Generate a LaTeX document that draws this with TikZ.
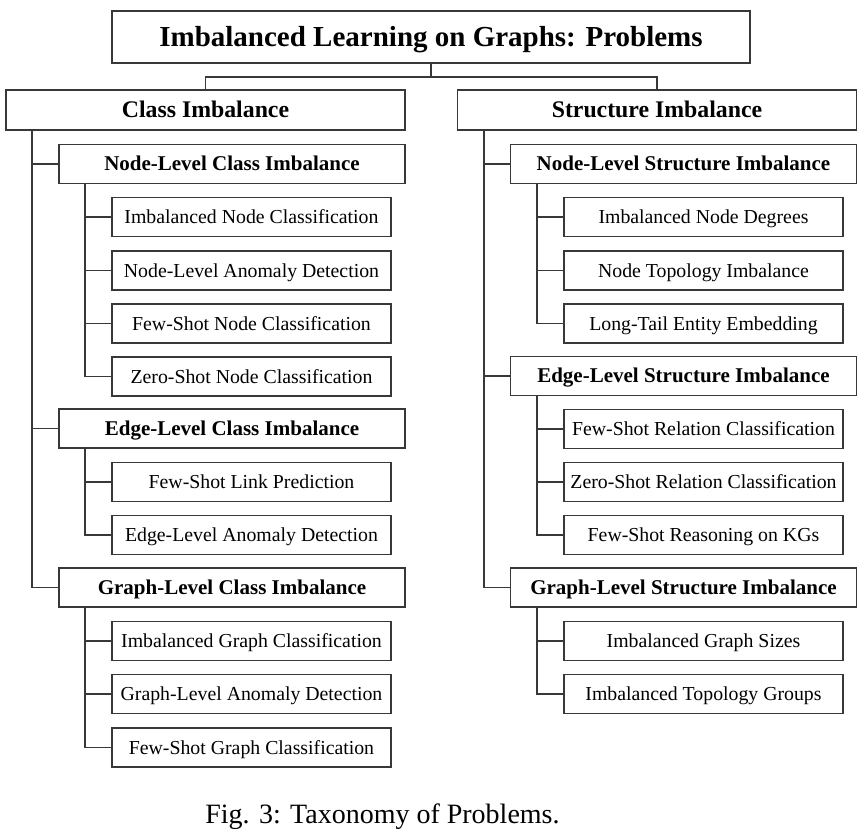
\documentclass[tikz,border=0pt]{standalone}
\usepackage{fontspec}
\setmainfont{Liberation Serif}
\definecolor{linec}{HTML}{383838}
\begin{document}
\begin{tikzpicture}[x=1pt,y=-1pt,
  box/.style={draw=linec,line width=1.4pt,fill=white,inner sep=0pt,align=center,text=black},
  titlebox/.style={box,minimum width=638pt,minimum height=52pt,text height=23pt,text depth=3.8pt,font=\fontsize{29}{34}\selectfont\bfseries},
  lvone/.style={box,minimum width=399pt,minimum height=40pt,text height=19pt,text depth=3.3pt,font=\fontsize{23.8}{28}\selectfont\bfseries},
  lvtwo/.style={box,minimum width=346pt,minimum height=39pt,text height=17pt,text depth=3.1pt,font=\fontsize{21}{25}\selectfont\bfseries},
  leaf/.style={box,minimum width=279pt,minimum height=39pt,text height=16pt,text depth=3pt,font=\fontsize{19.8}{24}\selectfont},
  conn/.style={draw=linec,line width=1.8pt}
]
\useasboundingbox (0,0) rectangle (865,839);

% title
\node[titlebox] (t) at (431,37) {Imbalanced Learning on Graphs: Problems};

% level 1
\node[lvone] (ci) at (205.5,110) {Class Imbalance};
\node[lvone] (si) at (657,110) {Structure Imbalance};

% left level 2
\node[lvtwo] (cn) at (232,164) {Node-Level Class Imbalance};
\node[lvtwo] (ce) at (232,428.5) {Edge-Level Class Imbalance};
\node[lvtwo] (cg) at (232,587.5) {Graph-Level Class Imbalance};

% left leaves
\node[leaf] (cn1) at (251.5,217) {Imbalanced Node Classification};
\node[leaf] (cn2) at (251.5,270.5) {Node-Level Anomaly Detection};
\node[leaf] (cn3) at (251.5,323.5) {Few-Shot Node Classification};
\node[leaf] (cn4) at (251.5,376.5) {Zero-Shot Node Classification};
\node[leaf] (ce1) at (251.5,482) {Few-Shot Link Prediction};
\node[leaf] (ce2) at (251.5,535) {Edge-Level Anomaly Detection};
\node[leaf] (cg1) at (251.5,641) {Imbalanced Graph Classification};
\node[leaf] (cg2) at (251.5,694) {Graph-Level Anomaly Detection};
\node[leaf] (cg3) at (251.5,747.5) {Few-Shot Graph Classification};

% right level 2
\node[lvtwo] (sn) at (683.5,164) {Node-Level Structure Imbalance};
\node[lvtwo] (se) at (683.5,376) {Edge-Level Structure Imbalance};
\node[lvtwo] (sg) at (683.5,587.5) {Graph-Level Structure Imbalance};

% right leaves
\node[leaf] (sn1) at (703.5,217) {Imbalanced Node Degrees};
\node[leaf] (sn2) at (703.5,270.5) {Node Topology Imbalance};
\node[leaf] (sn3) at (703.5,323.5) {Long-Tail Entity Embedding};
\node[leaf] (se1) at (703.5,429) {Few-Shot Relation Classification};
\node[leaf] (se2) at (703.5,482) {Zero-Shot Relation Classification};
\node[leaf] (se3) at (703.5,535) {Few-Shot Reasoning on KGs};
\node[leaf] (sg1) at (703.5,641) {Imbalanced Graph Sizes};
\node[leaf] (sg2) at (703.5,694) {Imbalanced Topology Groups};

% title connectors
\coordinate (tj) at (431,77);
\draw[conn] (t.south) -- (tj);
\draw[conn] (ci.north) |- (tj) -| (si.north);

% left trunk
\coordinate (ct) at ([xshift=27pt]ci.south west);
\draw[conn] (ct) |- (cg.west);
\draw[conn] (ct |- cn.west) -- (cn.west);
\draw[conn] (ct |- ce.west) -- (ce.west);

% right trunk
\coordinate (st) at ([xshift=27pt]si.south west);
\draw[conn] (st) |- (sg.west);
\draw[conn] (st |- sn.west) -- (sn.west);
\draw[conn] (st |- se.west) -- (se.west);

% left sub-trunks
\coordinate (cnt) at ([xshift=27pt]cn.south west);
\draw[conn] (cnt) |- (cn4.west);
\foreach \l in {cn1,cn2,cn3} \draw[conn] (cnt |- \l.west) -- (\l.west);
\coordinate (cet) at ([xshift=27pt]ce.south west);
\draw[conn] (cet) |- (ce2.west);
\draw[conn] (cet |- ce1.west) -- (ce1.west);
\coordinate (cgt) at ([xshift=27pt]cg.south west);
\draw[conn] (cgt) |- (cg3.west);
\foreach \l in {cg1,cg2} \draw[conn] (cgt |- \l.west) -- (\l.west);

% right sub-trunks
\coordinate (snt) at ([xshift=27pt]sn.south west);
\draw[conn] (snt) |- (sn3.west);
\foreach \l in {sn1,sn2} \draw[conn] (snt |- \l.west) -- (\l.west);
\coordinate (set) at ([xshift=27pt]se.south west);
\draw[conn] (set) |- (se3.west);
\foreach \l in {se1,se2} \draw[conn] (set |- \l.west) -- (\l.west);
\coordinate (sgt) at ([xshift=27pt]sg.south west);
\draw[conn] (sgt) |- (sg2.west);
\draw[conn] (sgt |- sg1.west) -- (sg1.west);

% caption
\node[anchor=base,inner sep=0pt,font=\fontsize{28}{32}\selectfont] (cap) at (382.5,823) {Fig. 3: Taxonomy of Problems.};
\end{tikzpicture}
\end{document}
